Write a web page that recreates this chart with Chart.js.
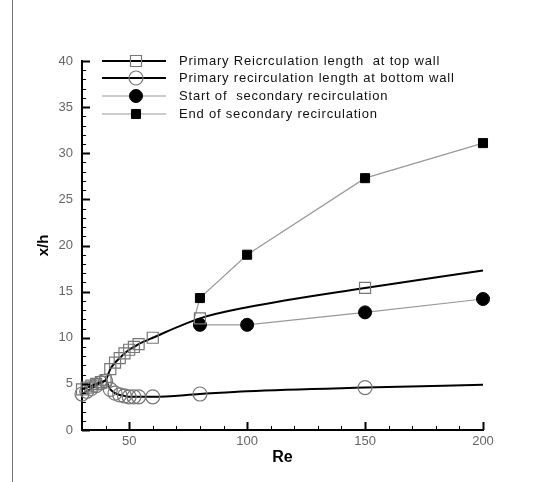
<!DOCTYPE html>
<html>
<head>
<meta charset="utf-8">
<script src="https://cdn.jsdelivr.net/npm/chart.js"></script>
<style>
  html, body { margin: 0; padding: 0; background: #fff; }
</style>
</head>
<body>
<canvas id="myChart" width="540" height="482"></canvas>
<script>
// Reynolds numbers and recirculation lengths (x/h)
var rePrimary = [30, 32, 34, 36, 38, 40, 42, 44, 46, 48, 50, 52, 54, 60, 80, 100, 150, 200];
var topWall = [4.4, 4.6, 4.8, 5.0, 5.2, 5.4, 6.6, 7.3, 7.8, 8.3, 8.7, 9.0, 9.3, 10.0, 12.1, 13.3, 15.4, 17.3];
var bottomWall = [3.9, 4.2, 4.5, 4.8, 5.1, 5.3, 4.4, 4.0, 3.8, 3.7, 3.6, 3.6, 3.6, 3.6, 3.9, 4.2, 4.6, 4.9];
// Re where the fitted curve has no symbol
var curveOnly = [100, 200];

var reSecondary = [77.5, 80, 100, 150, 200];
var secStart = [12.0, 11.4, 11.4, 12.75, 14.2];
var secEnd = [12.0, 14.3, 19.0, 27.3, 31.1];

var xTicks = [50, 100, 150, 200];
var yTicks = [0, 5, 10, 15, 20, 25, 30, 35, 40];

var legendLabels = [
    'Primary Reicrculation length  at top wall',
    'Primary recirculation length at bottom wall',
    'Start of  secondary recirculation',
    'End of secondary recirculation'
];

function pts(xs, ys) {
    return xs.map(function (x, i) { return {x: x, y: ys[i]}; });
}

function symbolRadius(r) {
    return function (ctx) {
        return curveOnly.indexOf(ctx.raw.x) >= 0 ? 0 : r;
    };
}
function skipFirst(r) {
    return function (ctx) { return ctx.dataIndex === 0 ? 0 : r; };
}

// inward ticks like the original plot
var axisTicks = {
    id: 'axisTicks',
    beforeDraw: function (chart) {
        var c = chart.ctx;
        c.save();
        c.strokeStyle = '#777';
        c.lineWidth = 1;
        c.beginPath();
        c.moveTo(12.5, 0); c.lineTo(12.5, 482);
        c.stroke();
        c.restore();
    },
    afterDraw: function (chart) {
        var c = chart.ctx, xs = chart.scales.x, ys = chart.scales.y, a = chart.chartArea;
        c.save();
        c.strokeStyle = '#000';
        for (var v = 0; v <= 40; v++) {
            var py = Math.round(ys.getPixelForValue(v)) + 0.5;
            var major = v % 5 === 0;
            c.lineWidth = major ? 2 : 1;
            c.beginPath();
            c.moveTo(a.left, py); c.lineTo(a.left + (major ? 8 : 4), py);
            c.stroke();
        }
        for (var r = 40; r <= 200; r += 10) {
            var px = Math.round(xs.getPixelForValue(r)) + 0.5;
            var maj = r % 50 === 0;
            c.lineWidth = maj ? 2 : 1;
            c.beginPath();
            c.moveTo(px, a.bottom); c.lineTo(px, a.bottom - (maj ? 8 : 4));
            c.stroke();
        }
        c.restore();
    }
};

// legend inside the plot, line + symbol like the original
var lineLegend = {
    id: 'lineLegend',
    afterDraw: function (chart) {
        var c = chart.ctx;
        var rows = [61, 78, 96, 114];
        c.save();
        chart.data.datasets.forEach(function (ds, i) {
            var y = rows[i];
            c.strokeStyle = ds.borderColor;
            c.lineWidth = ds.borderWidth;
            c.beginPath();
            c.moveTo(102, y); c.lineTo(166, y);
            c.stroke();
            var rad = ds.legendRadius;
            c.lineWidth = ds.pointBorderWidth;
            c.strokeStyle = ds.pointBorderColor;
            c.fillStyle = ds.pointBackgroundColor;
            c.beginPath();
            if (ds.pointStyle === 'rect') {
                var s = rad * Math.SQRT1_2;
                c.rect(136 - s, y - s, 2 * s, 2 * s);
            } else {
                c.arc(136, y, rad, 0, Math.PI * 2);
            }
            c.fill();
            c.stroke();
            c.fillStyle = '#111';
            c.font = '13px "Liberation Sans", Arial, sans-serif';
            c.letterSpacing = '0.8px';
            c.textBaseline = 'middle';
            c.fillText(legendLabels[i], 179, y);
        });
        c.restore();
    }
};

var ctx = document.getElementById('myChart').getContext('2d');
var chart = new Chart(ctx, {
    type: 'line',
    data: {
        datasets: [{
            label: legendLabels[0],
            data: pts(rePrimary, topWall),
            borderColor: '#000',
            borderWidth: 2,
            cubicInterpolationMode: 'monotone',
            pointStyle: 'rect',
            pointRadius: symbolRadius(7.8),
            legendRadius: 7.8,
            pointBorderColor: '#777',
            pointBackgroundColor: 'rgba(255,255,255,0)',
            pointBorderWidth: 1.2
        }, {
            label: legendLabels[1],
            data: pts(rePrimary, bottomWall),
            borderColor: '#000',
            borderWidth: 2,
            cubicInterpolationMode: 'monotone',
            pointStyle: 'circle',
            pointRadius: symbolRadius(7),
            legendRadius: 7,
            pointBorderColor: '#777',
            pointBackgroundColor: 'rgba(255,255,255,0)',
            pointBorderWidth: 1.2
        }, {
            label: legendLabels[2],
            data: pts(reSecondary, secStart),
            borderColor: '#999',
            borderWidth: 1.2,
            tension: 0,
            pointStyle: 'circle',
            pointRadius: skipFirst(6.5),
            legendRadius: 6.5,
            pointBorderColor: '#000',
            pointBackgroundColor: '#000',
            pointBorderWidth: 1
        }, {
            label: legendLabels[3],
            data: pts(reSecondary, secEnd),
            borderColor: '#999',
            borderWidth: 1.2,
            tension: 0,
            pointStyle: 'rect',
            pointRadius: skipFirst(6.4),
            legendRadius: 6.4,
            pointBorderColor: '#000',
            pointBackgroundColor: '#000',
            pointBorderWidth: 1
        }]
    },
    options: {
        responsive: false,
        animation: false,
        clip: false,
        layout: { padding: { left: 0, top: 61, right: 57, bottom: 0 } },
        plugins: { legend: { display: false }, tooltip: { enabled: false } },
        scales: {
            x: {
                type: 'linear',
                min: 30,
                max: 200,
                afterBuildTicks: function (s) { s.ticks = xTicks.map(function (v) { return {value: v}; }); },
                afterFit: function (s) { s.height = 52; },
                grid: { display: false, drawTicks: false },
                border: { display: true, color: '#000', width: 2 },
                ticks: { color: '#666', font: { size: 13, family: '"Liberation Sans", Arial' }, padding: 4, maxRotation: 0 },
                title: { display: true, text: 'Re', color: '#000', font: { size: 16, weight: 'bold', family: '"Liberation Sans", Arial' }, padding: { top: 15, bottom: 15 } }
            },
            y: {
                type: 'linear',
                min: 0,
                max: 40,
                afterBuildTicks: function (s) { s.ticks = yTicks.map(function (v) { return {value: v}; }); },
                afterFit: function (s) { s.width = 82; },
                grid: { display: false, drawTicks: false },
                border: { display: true, color: '#000', width: 2 },
                ticks: { color: '#666', font: { size: 13, family: '"Liberation Sans", Arial' }, padding: 9 },
                title: { display: true, text: 'x/h', color: '#000', font: { size: 15, weight: 'bold', family: '"Liberation Sans", Arial' }, padding: { top: 35, bottom: 35 } }
            }
        }
    },
    plugins: [axisTicks, lineLegend]
});
</script>
</body>
</html>
